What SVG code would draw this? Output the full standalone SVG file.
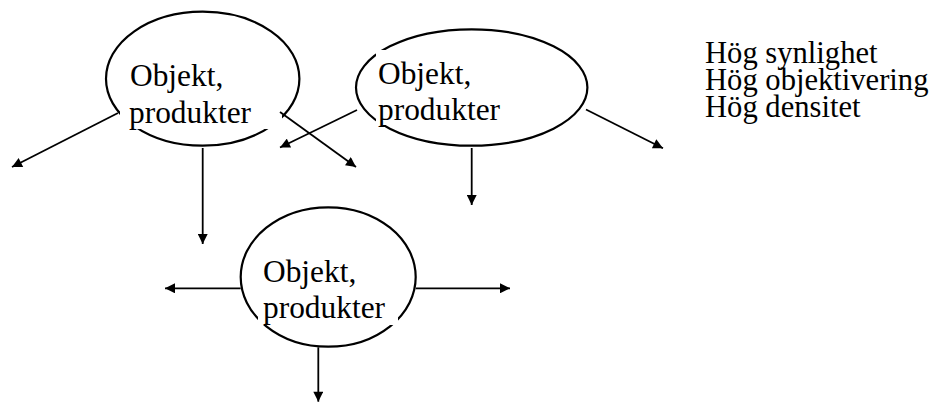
<svg xmlns="http://www.w3.org/2000/svg" width="944" height="403" viewBox="0 0 944 403">
  <style>
    .oval { fill: none; stroke: #000; stroke-width: 2.2; }
    .box { fill: #fff; stroke: none; }
    text { font-family: 'Liberation Serif', 'Times New Roman', 'DejaVu Serif', serif; font-size: 31.4px; fill: #000; }
    .leg { font-size: 30.6px; }
    .conn { stroke: #000; stroke-width: 1.8; fill: none; marker-end: url(#arrow); }
  </style>
  <defs>
    <marker id="arrow" viewBox="0 0 10 10" refX="10" refY="5" markerWidth="11" markerHeight="10" markerUnits="userSpaceOnUse" orient="auto">
      <path d="M0,0 L10,5 L0,10 z" fill="#000"/>
    </marker>
  </defs>
  <rect width="944" height="403" fill="#fff"/>

  <g id="node1">
    <ellipse class="oval" cx="202.7" cy="78.7" rx="96.7" ry="67"/>
    <rect class="box" x="120" y="55" width="162" height="74"/>
    <text x="130" y="86">Objekt,</text>
    <text x="129" y="122.5">produkter</text>
  </g>

  <g id="node2">
    <ellipse class="oval" cx="471.7" cy="87.5" rx="115.7" ry="58.2"/>
    <rect class="box" x="376" y="50" width="170" height="75"/>
    <text x="378" y="83.5">Objekt,</text>
    <text x="378" y="120">produkter</text>
  </g>

  <g id="node3">
    <ellipse class="oval" cx="328.2" cy="277" rx="87.5" ry="69.7"/>
    <rect class="box" x="258" y="245" width="140" height="80"/>
    <text x="263" y="282">Objekt,</text>
    <text x="263" y="318">produkter</text>
  </g>

  <g id="legend">
    <text class="leg" x="705" y="63">Hög synlighet</text>
    <text class="leg" x="705" y="90">Hög objektivering</text>
    <text class="leg" x="705" y="117">Hög densitet</text>
  </g>

  <g id="connectors">
    <line class="conn" x1="118" y1="113" x2="12" y2="167"/>
    <line class="conn" x1="280" y1="112" x2="356" y2="167"/>
    <line class="conn" x1="202.7" y1="148" x2="202.7" y2="244"/>
    <line class="conn" x1="357" y1="110" x2="280" y2="147.5"/>
    <line class="conn" x1="471.7" y1="148" x2="471.7" y2="205"/>
    <line class="conn" x1="586" y1="109.5" x2="663" y2="148.3"/>
    <line class="conn" x1="240.7" y1="288.3" x2="165" y2="288.3"/>
    <line class="conn" x1="415.7" y1="288.3" x2="510" y2="288.3"/>
    <line class="conn" x1="318.3" y1="347.3" x2="318.3" y2="401.7"/>
  </g>
</svg>
